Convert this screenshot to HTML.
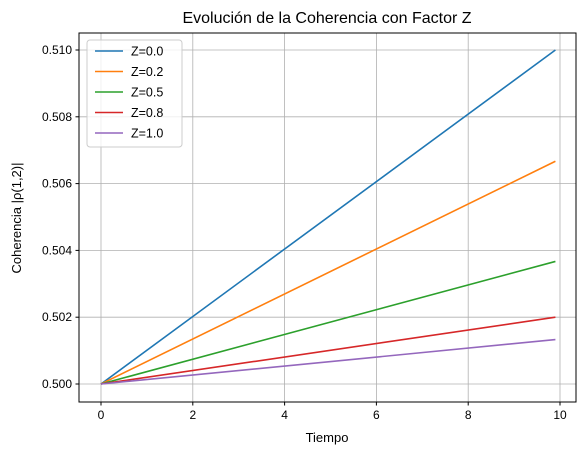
<!DOCTYPE html>
<html><head><meta charset="utf-8"><style>
body{margin:0;background:#fff;}
svg{display:block;font-family:"Liberation Sans","DejaVu Sans",sans-serif;}
</style></head><body>
<svg id="chart" width="585" height="455">
<rect width="585" height="455" fill="#fff"/>
<text x="327" y="23" font-size="16" text-anchor="middle">Evolución de la Coherencia con Factor Z</text>
<g id="grid"></g>
<g id="lines"></g>
<rect x="79" y="33" width="497" height="369" fill="none" stroke="#000" stroke-width="1"/>
<g id="ticks"></g>
<text x="327" y="442" font-size="13" text-anchor="middle">Tiempo</text>
<text transform="translate(21,218) rotate(-90)" font-size="13" text-anchor="middle">Coherencia |ρ(1,2)|</text>
<g id="legend"></g>
</svg>
<script>
const xTicks=[0,2,4,6,8,10];
const yTicks=[0.500,0.502,0.504,0.506,0.508,0.510];
const zLabels=["Z=0.0","Z=0.2","Z=0.5","Z=0.8","Z=1.0"];
const startVals=[0.5,0.5,0.5,0.5,0.5];
const endVals=[0.5100,0.50667,0.50367,0.5020,0.50133];
const tStart=0, tEnd=9.9;
const colors=["#1f77b4","#ff7f0e","#2ca02c","#d62728","#9467bd"];
const NS="http://www.w3.org/2000/svg";
const xs=v=>101+v*45.9;
const ys=v=>384-(v-0.5)*33400;
function mk(t,a,p){const e=document.createElementNS(NS,t);for(const k in a)e.setAttribute(k,a[k]);p.appendChild(e);return e;}
const grid=document.getElementById('grid'),ticks=document.getElementById('ticks'),lines=document.getElementById('lines'),leg=document.getElementById('legend');
xTicks.forEach(v=>{const x=xs(v);
 const g=mk('line',{x1:x,x2:x,y1:33,y2:402,stroke:'#b0b0b0','stroke-width':0.8},grid);
 
 
 mk('line',{x1:x,x2:x,y1:402,y2:405.5,stroke:'#000'},ticks);
 const t=mk('text',{x:x,y:419,'font-size':12,'text-anchor':'middle'},ticks);t.textContent=v;
 
 
});
yTicks.forEach(v=>{const y=ys(v);
 const g=mk('line',{x1:79,x2:576,y1:y,y2:y,stroke:'#b0b0b0','stroke-width':0.8},grid);
 
 
 mk('line',{x1:75.5,x2:79,y1:y,y2:y,stroke:'#000'},ticks);
 const t=mk('text',{x:72,y:y+4,'font-size':12,'text-anchor':'end'},ticks);t.textContent=v.toFixed(3);
 
 
});
zLabels.forEach((lab,i)=>{
 const l=mk('line',{x1:xs(tStart),y1:ys(startVals[i]),x2:xs(tEnd),y2:ys(endVals[i]),stroke:colors[i],'stroke-width':1.6},lines);
 
 
});
const lb=mk('rect',{x:87,y:40,width:95,height:107,rx:3,fill:'#fff','fill-opacity':0.8,stroke:'#ccc'},leg);


zLabels.forEach((lab,i)=>{const y=51+i*20.5;
 mk('line',{x1:95,x2:123,y1:y,y2:y,stroke:colors[i],'stroke-width':1.6},leg);
 const t=mk('text',{x:131,y:y+4.5,'font-size':12.5},leg);t.textContent=lab;
 
 
});
</script>
</body></html>
